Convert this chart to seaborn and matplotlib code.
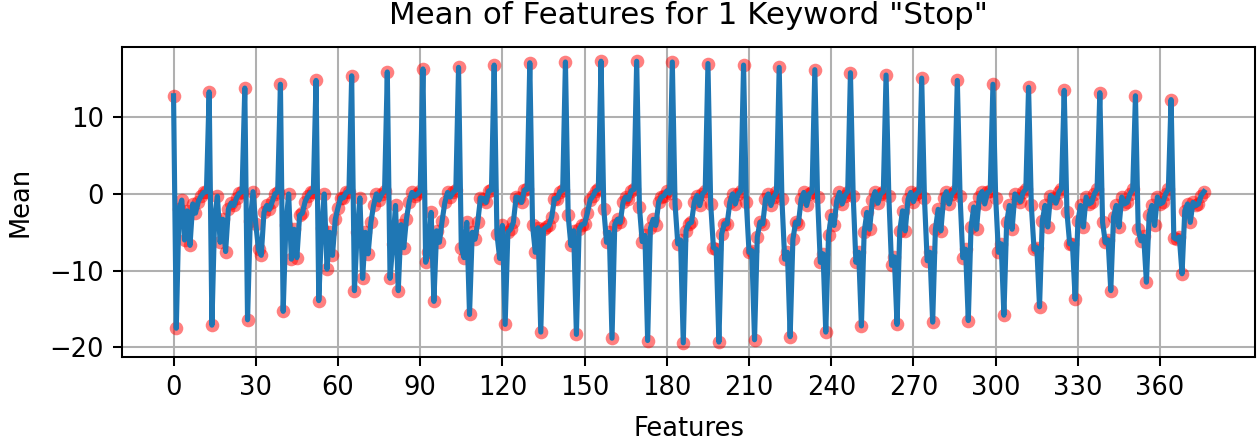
import numpy as np
import pandas as pd
import matplotlib
matplotlib.use("Agg")
import matplotlib.pyplot as plt
import seaborn as sns

# Mean of 13 coefficients for each of 29 frames
frame_00 = [12.8, -17.5, -2.0, -0.8, -6.0, -2.2, -6.7, -1.3, -2.5, -1.0, -0.3, 0.2, 0.3]
frame_01 = [13.3, -17.1, -3.0, -0.3, -6.3, -3.3, -7.5, -2.0, -1.2, -1.5, -0.5, 0.1, 0.3]
frame_02 = [13.8, -16.4, -3.5, 0.3, -3.9, -7.2, -8.0, -2.4, -1.5, -2.0, -1.0, 0.0, 0.3]
frame_03 = [14.3, -15.3, -4.0, 0.0, -8.5, -4.6, -8.3, -2.8, -2.5, -1.0, -0.3, 0.2, 0.3]
frame_04 = [14.8, -13.9, -4.5, 0.0, -9.8, -5.0, -8.0, -3.3, -1.8, -0.5, -0.5, 0.2, 0.3]
frame_05 = [15.4, -12.6, -5.0, -0.5, -11.0, -5.0, -7.8, -3.7, -1.5, 0.0, -0.8, 0.0, 0.4]
frame_06 = [15.9, -11.0, -6.5, -1.5, -12.6, -4.0, -7.0, -3.2, -1.0, 0.2, -0.3, 0.0, 0.4]
frame_07 = [16.3, -8.9, -7.5, -2.4, -14.0, -4.8, -6.3, -3.5, -1.1, 0.2, -0.4, 0.2, 0.5]
frame_08 = [16.5, -7.0, -8.3, -3.7, -15.7, -5.0, -5.9, -3.7, -0.5, -0.6, -1.1, 0.4, 0.5]
frame_09 = [16.8, -5.2, -8.4, -4.1, -17.0, -5.0, -4.6, -3.7, -0.4, -0.5, -1.1, 0.5, 0.6]
frame_10 = [17.1, -4.1, -7.6, -4.4, -18.0, -4.6, -4.3, -4.1, -3.0, -0.6, -0.6, 0.3, 0.5]
frame_11 = [17.2, -2.8, -6.7, -4.8, -18.3, -4.6, -4.0, -3.9, -2.5, -0.8, -0.3, 0.4, 0.6]
frame_12 = [17.3, -2.0, -6.3, -5.0, -18.8, -4.0, -3.3, -3.7, -1.1, -0.4, -0.7, 0.4, 0.6]
frame_13 = [17.3, -1.7, -6.2, -5.4, -19.1, -4.5, -3.3, -4.1, -1.1, -0.4, -0.2, 0.4, 0.1]
frame_14 = [17.2, -1.3, -6.5, -6.0, -19.4, -4.8, -3.9, -3.7, -1.1, -0.2, -1.5, 0.0, 0.4]
frame_15 = [17.0, -1.3, -7.0, -7.2, -19.3, -5.2, -3.9, -3.9, -1.1, 0.0, -1.3, 0.0, 0.4]
frame_16 = [16.8, -1.1, -7.6, -7.4, -19.0, -5.6, -3.7, -3.9, -0.7, 0.0, -1.5, -0.4, 0.2]
frame_17 = [16.5, -0.7, -8.5, -7.6, -18.6, -5.9, -3.7, -3.9, -0.7, 0.2, -1.5, 0.0, 0.3]
frame_18 = [16.2, -0.4, -8.9, -7.8, -18.0, -5.4, -2.8, -4.1, -0.9, 0.2, -1.3, -0.2, 0.3]
frame_19 = [15.8, -0.2, -8.9, -7.6, -17.2, -5.0, -2.4, -4.6, -0.8, 0.3, -1.2, 0.0, 0.3]
frame_20 = [15.5, -0.2, -9.3, -8.2, -17.0, -4.8, -2.2, -4.8, -0.7, 0.2, -1.0, 0.0, 0.3]
frame_21 = [15.1, -0.5, -8.7, -7.6, -16.7, -4.6, -2.0, -4.8, -0.5, 0.3, -1.3, 0.0, 0.4]
frame_22 = [14.8, -0.3, -8.3, -7.2, -16.5, -4.3, -1.7, -4.6, -0.4, 0.3, -1.3, 0.2, 0.4]
frame_23 = [14.3, -0.5, -7.6, -6.5, -15.8, -3.7, -1.5, -4.6, 0.0, -0.5, -1.0, 0.2, 0.6]
frame_24 = [13.9, -1.5, -7.2, -7.0, -14.7, -3.5, -1.5, -4.3, -0.2, -0.5, -1.2, 0.2, 0.7]
frame_25 = [13.5, -2.4, -6.5, -6.5, -13.7, -3.5, -1.5, -4.3, -0.4, -1.3, -1.1, 0.0, 0.6]
frame_26 = [13.2, -3.7, -6.3, -6.0, -12.6, -3.0, -1.5, -4.3, -0.4, -1.3, -1.1, 0.0, 0.6]
frame_27 = [12.8, -4.6, -6.1, -5.5, -11.5, -2.8, -1.5, -4.1, -0.4, -1.3, -1.1, 0.0, 0.6]
frame_28 = [12.3, -5.7, -5.9, -5.6, -10.4, -2.2, -1.3, -3.7, -1.1, -1.5, -1.3, -0.2, 0.3]

frames = [frame_00, frame_01, frame_02, frame_03, frame_04, frame_05, frame_06,
          frame_07, frame_08, frame_09, frame_10, frame_11, frame_12, frame_13,
          frame_14, frame_15, frame_16, frame_17, frame_18, frame_19, frame_20,
          frame_21, frame_22, frame_23, frame_24, frame_25, frame_26, frame_27,
          frame_28]

means = [v for f in frames for v in f]
df = pd.DataFrame({"Features": np.arange(len(means)), "Mean": means})

x_ticks = [0, 30, 60, 90, 120, 150, 180, 210, 240, 270, 300, 330, 360]
y_ticks = [-20, -10, 0, 10]

DPI = 185
fig, ax = plt.subplots(figsize=(1258 / DPI, 445 / DPI), dpi=DPI)
fig.subplots_adjust(left=0.097, right=0.998, top=0.894, bottom=0.198)

sns.scatterplot(data=df, x="Features", y="Mean", color="red", alpha=0.5,
                s=28, linewidth=0, ax=ax, zorder=2)
sns.lineplot(data=df, x="Features", y="Mean", color="#1f77b4", linewidth=2.0,
             ax=ax, zorder=3)

ax.set_xticks(x_ticks)
ax.set_yticks(y_ticks)
ax.grid(True, color="#b0b0b0", linewidth=0.8)
ax.set_axisbelow(True)
ax.set_title('Mean of Features for 1 Keyword "Stop"', fontsize=12, pad=9)
ax.set_xlabel("Features", labelpad=6)
ax.set_ylabel("Mean", labelpad=6)

fig.savefig("out.png", dpi=DPI)
